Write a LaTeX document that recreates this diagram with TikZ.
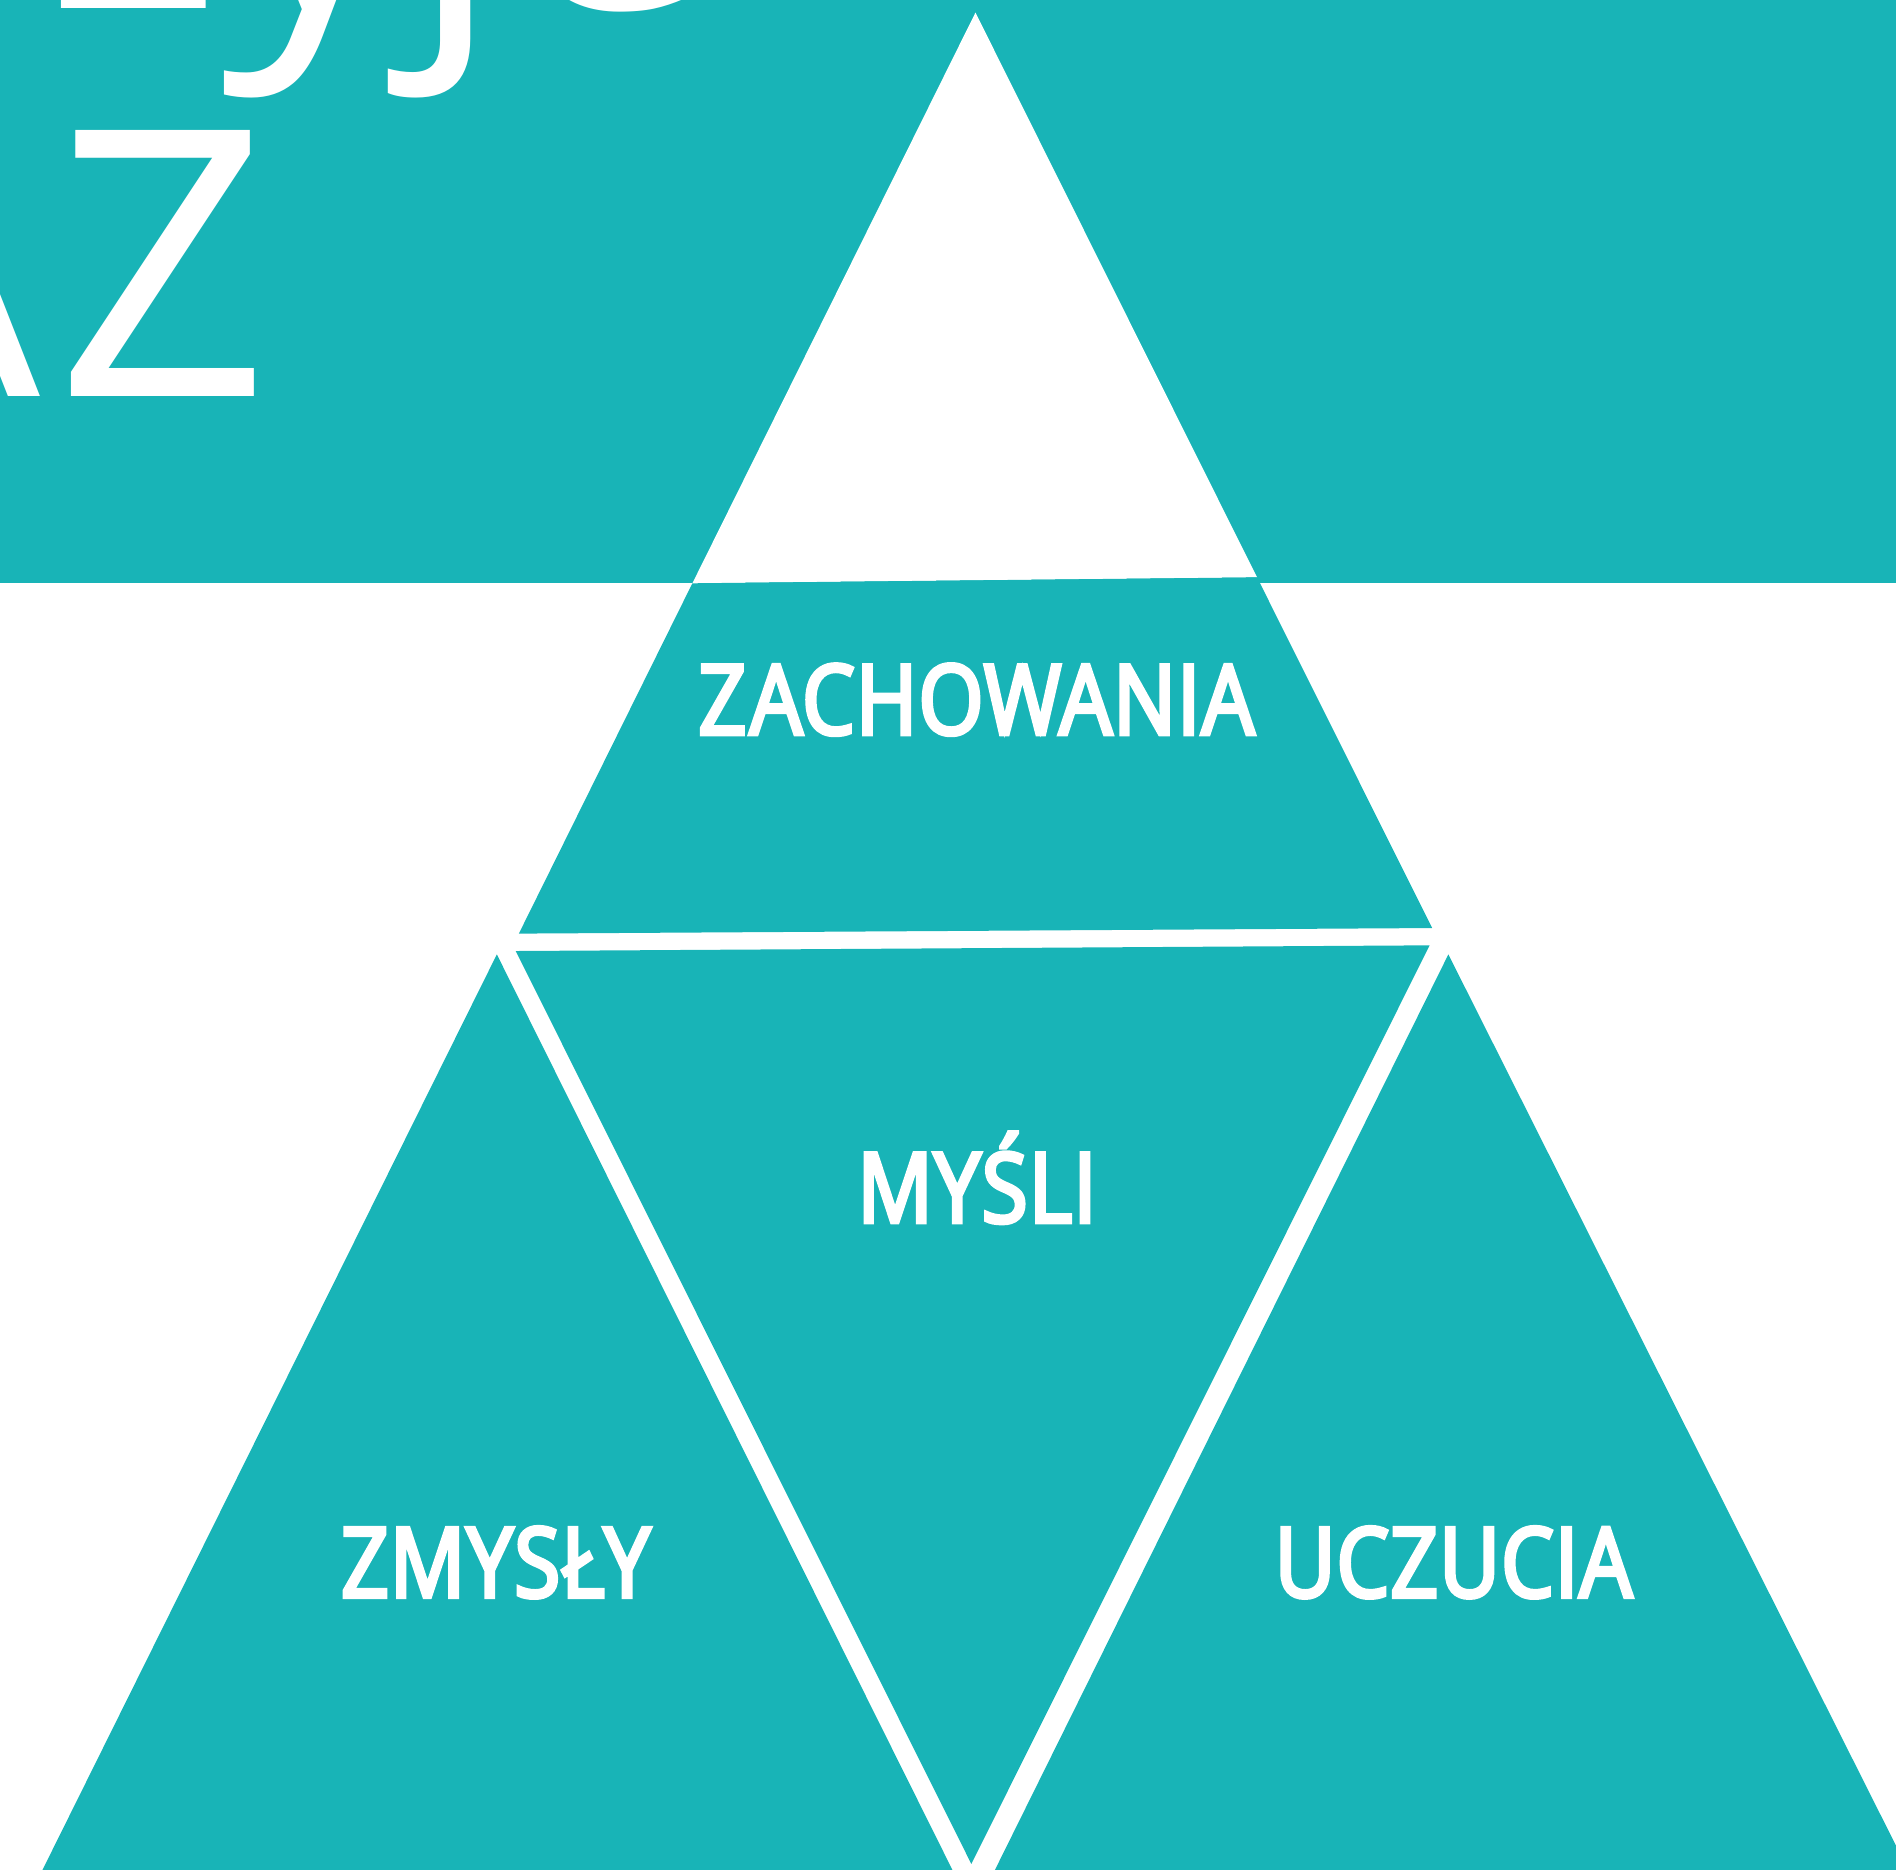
\documentclass[tikz,border=0pt]{standalone}
\usepackage{fontspec}
\setmainfont{Open Sans}
\newfontfamily\labelfont[FakeStretch=0.86, FakeBold=4, LetterSpace=1.2]{Open Sans}
\newfontfamily\titlefont{Open Sans}
\definecolor{tealpiece}{RGB}{24,180,183}

\begin{document}
\begin{tikzpicture}[
  x=0.012092cm, y=-0.012092cm,
  piece/.style={fill=tealpiece, draw=none},
  gapcut/.style={fill=white, draw=none},
  caption/.style={text=white, inner sep=0pt, anchor=base,
                  font=\labelfont\fontsize{27.6}{30}\selectfont},
  bigtext/.style={text=white, inner sep=0pt,
                  font=\titlefont\fontsize{106}{110}\selectfont}
]
\useasboundingbox (0,0) rectangle (1568,1546);
\clip (0,0) rectangle (1568,1546);

% --- Top band with the cut-out tip ---
\fill[piece] (-10,-10) rectangle (1580,482);
\fill[gapcut] (806.7,10.4) -- (572.6,482.4) -- (1039.6,477.5) -- cycle;

% --- Big title letters (cut by the frame) ---
\node[bigtext, anchor=base west] (titletop) at (38,7) {żyje};
\node[bigtext, anchor=base east] (titlebottom) at (223,328) {A\kern4.5pt Z};

% --- Pyramid pieces ---
\fill[piece] (572.6,482.4) -- (1039.6,477.5) -- (1184.4,767.5) -- (429.1,772.1) -- cycle;
\fill[piece] (426.5,786.5) -- (1182.3,781.8) -- (803.3,1541.5) -- cycle;
\fill[piece] (410.9,789.3) -- (794.4,1560) -- (28.4,1560) -- cycle;
\fill[piece] (1197.8,789.3) -- (1584.9,1560) -- (816.1,1560) -- cycle;

% --- Labels ---
\node[caption] (zachowania) at (807.5,607.3) {Z\kern1pt ACHOWANIA};
\node[caption] (mysli) at (808,1011) {MYŚLI};
\node[caption] (zmysly) at (410,1320.8) {ZMYSŁY};
\node[caption] (uczucia) at (1202,1320.8) {UCZUCIA};

\end{tikzpicture}
\end{document}
